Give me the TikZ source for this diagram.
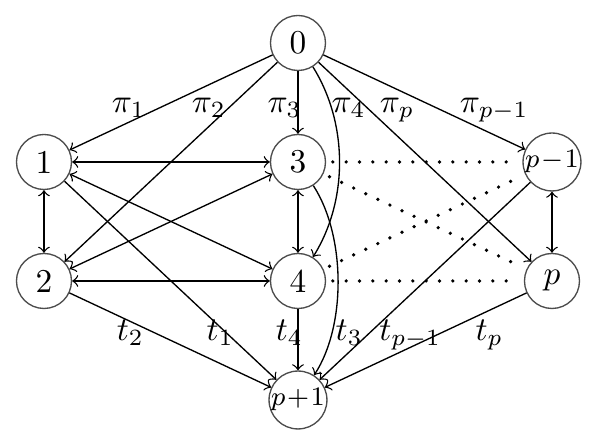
\documentclass[tikz,border=0pt]{standalone}
\newcommand{\pnode}[1]{{\fontsize{8.3}{9}\selectfont$p\mskip1mu{#1}\mskip1mu1$}}
\tikzset{
  vtx/.style={circle,draw=black!70,line width=.4pt,minimum size=16.5pt,inner sep=0pt,font=\fontsize{10}{12}\selectfont},
  lbl/.style={anchor=base west,inner sep=0pt,font=\fontsize{10}{12}\selectfont},
  arc/.style={line width=.4pt},
  dotline/.style={line width=1.1pt,line cap=round,dash pattern=on 0pt off 4pt,shorten <=2pt,shorten >=1.5pt}
}

\begin{document}
\begin{tikzpicture}[x=76.2pt,y=35.7pt]
\path[use as bounding box] (-1.1732,-0.3782) rectangle (1.1811,3.3613);
% vertices
\node[vtx] (n0) at (0,3) {0};
\node[vtx] (n1) at (-1,2) {1};
\node[vtx] (n3) at (0,2) {3};
\node[vtx] (npm) at (1,2) {\pnode{-}};
\node[vtx] (n2) at (-1,1) {2};
\node[vtx] (n4) at (0,1) {4};
\node[vtx] (np) at (1,1) {$p$};
\node[vtx] (npp) at (0,0) {\pnode{+}};
% arcs out of the source
\draw[arc,->] (n0) -- (n1);
\draw[arc,->] (n0) -- (n2);
\draw[arc,->] (n0) -- (n3);
\draw[arc,->] (n0) to[out=-58,in=58,looseness=.9] (n4);
\draw[arc,->] (n0) -- (np);
\draw[arc,->] (n0) -- (npm);
% arcs between the jobs
\draw[arc,<->] (n1) -- (n3);
\draw[arc,<->] (n1) -- (n2);
\draw[arc,<->] (n1) -- (n4);
\draw[arc,<->] (n2) -- (n3);
\draw[arc,<->] (n2) -- (n4);
\draw[arc,<->] (n3) -- (n4);
\draw[arc,<->] (npm) -- (np);
\draw[dotline] (n3) -- (npm);
\draw[dotline] (n3) -- (np);
\draw[dotline] (n4) -- (npm);
\draw[dotline] (n4) -- (np);
% arcs into the sink
\draw[arc,->] (n1) -- (npp);
\draw[arc,->] (n2) -- (npp);
\draw[arc,->] (n3) to[out=-57,in=57,looseness=.8] (npp);
\draw[arc,->] (n4) -- (npp);
\draw[arc,->] (npm) -- (npp);
\draw[arc,->] (np) -- (npp);
% labels
\node[lbl] (lpi1) at (-0.735,2.416) {$\pi_1$};
\node[lbl] (lpi2) at (-0.420,2.416) {$\pi_2$};
\node[lbl] (lpi3) at (-0.122,2.416) {$\pi_3$};
\node[lbl] (lpi4) at (0.130,2.416) {$\pi_4$};
\node[lbl] (lpip) at (0.320,2.416) {$\pi_p$};
\node[lbl] (lpipm) at (0.635,2.416) {$\pi_{p-1}$};
\node[lbl] (lt2) at (-0.716,0.504) {$t_2$};
\node[lbl] (lt1) at (-0.362,0.504) {$t_1$};
\node[lbl] (lt4) at (-0.090,0.504) {$t_4$};
\node[lbl] (lt3) at (0.146,0.504) {$t_3$};
\node[lbl] (ltpm) at (0.318,0.504) {$t_{p-1}$};
\node[lbl] (ltp) at (0.697,0.504) {$t_p$};
\end{tikzpicture}
\end{document}
